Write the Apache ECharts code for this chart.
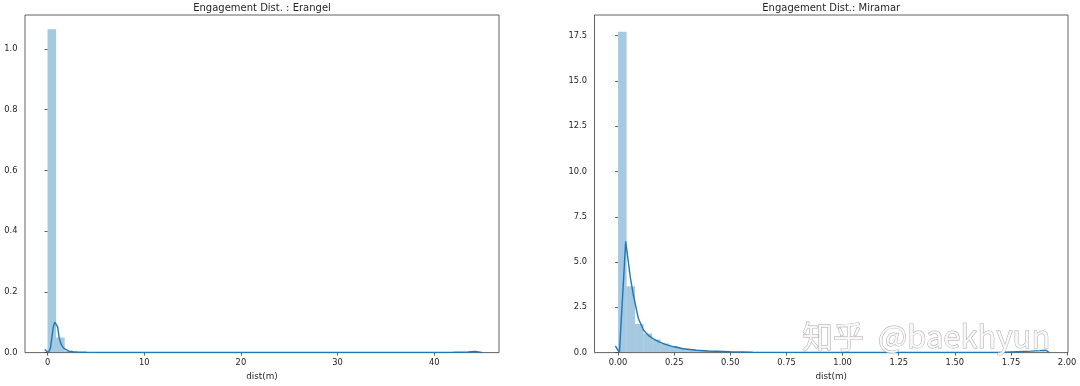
<!DOCTYPE html>
<html><head><meta charset="utf-8">
<script src="https://cdn.jsdelivr.net/npm/echarts@6/dist/echarts.min.js"></script>
<style>html,body{margin:0;padding:0;background:#fff}#c{width:1080px;height:386px}</style>
</head><body><div id="c"></div>
<script>
// ---------- data ----------
const titles = ['Engagement Dist. : Erangel', 'Engagement Dist.: Miramar'];
const xLabel = 'dist(m)';
const watermark = '知乎  @baekhyun';

const erangelBinWidth = 0.89;
const erangelHist = [1.065, 0.050, 0.006, 0.002, 0.001, 0.0008, 0.0006, 0.0005, 0.0004, 0.0003,
  0.0003, 0.0002, 0.0002, 0.0002, 0.0002, 0.0002, 0.0001, 0.0001, 0.0001, 0.0001,
  0.0001, 0.0001, 0.0001, 0.0001, 0.0001, 0.0001, 0.0001, 0.0001, 0.0001, 0.0001,
  0.0001, 0.0001, 0.0001, 0.0001, 0.0001, 0.0001, 0.0001, 0.0001, 0.0001, 0.0001,
  0.0001, 0.0001, 0.0001, 0.0001, 0.0001, 0.0002, 0.0003, 0.0005, 0.001, 0.002];
const erangelKdeX = [-0.3, -0.1, 0.1, 0.3, 0.45, 0.6, 0.75, 0.85, 0.95, 1.05, 1.2, 1.35, 1.5, 1.7, 1.9, 2.2, 2.6, 3.2, 4, 6, 10, 15, 20, 25, 30, 35, 40, 42, 43.5, 44.2, 44.6, 45.0];
const erangelKdeY = [0.010, 0.006, 0.0, 0.015, 0.05, 0.085, 0.100, 0.104, 0.100, 0.085, 0.050, 0.032, 0.022, 0.014, 0.009, 0.005, 0.003, 0.0015, 0.001, 0.0005, 0.0003, 0.0002, 0.0002, 0.0002, 0.0002, 0.0002, 0.0004, 0.001, 0.002, 0.004, 0.002, 0.0];
const erangelXTicks = [0, 10, 20, 30, 40];
const erangelYTicks = [0, 0.2, 0.4, 0.6, 0.8, 1.0];

const miramarBinWidth = 0.038;
const miramarHist = [17.72, 3.67, 1.58, 1.05, 0.72, 0.50, 0.36, 0.26, 0.19, 0.14,
  0.10, 0.075, 0.055, 0.04, 0.03, 0.022, 0.016, 0.012, 0.009, 0.007,
  0.005, 0.004, 0.003, 0.003, 0.002, 0.002, 0.002, 0.002, 0.002, 0.002,
  0.002, 0.002, 0.002, 0.002, 0.002, 0.002, 0.002, 0.002, 0.002, 0.002,
  0.002, 0.002, 0.002, 0.002, 0.005, 0.01, 0.02, 0.03, 0.04, 0.05];
const miramarKdeX = [-0.012, 0.006, 0.034, 0.054, 0.068, 0.09, 0.113, 0.135, 0.157, 0.185, 0.217, 0.25, 0.29, 0.35, 0.4, 0.5, 0.6, 0.75, 0.9, 1.0, 1.25, 1.5, 1.65, 1.72, 1.78, 1.84, 1.88, 1.9, 1.91, 1.92];
const miramarKdeY = [0.37, 0.0, 6.14, 4.2, 3.18, 1.9, 1.25, 0.95, 0.76, 0.58, 0.43, 0.32, 0.21, 0.13, 0.09, 0.045, 0.022, 0.01, 0.005, 0.004, 0.003, 0.003, 0.006, 0.02, 0.05, 0.08, 0.11, 0.13, 0.10, 0.0];
const miramarXTicks = [0, 0.25, 0.5, 0.75, 1.0, 1.25, 1.5, 1.75, 2.0];
const miramarYTicks = [0, 2.5, 5.0, 7.5, 10.0, 12.5, 15.0, 17.5];

// ---------- chart ----------
const FONT = 'DejaVu Sans';
const TXT = '#262626';
const BAR = 'rgba(31,119,180,0.4)';
const LINE = '#1f77b4';

const grids = [
  {left: 25, top: 15, width: 474, height: 339},
  {left: 594.5, top: 15, width: 473.5, height: 339}
];
const xRanges = [[-2.33, 46.7], [-0.105, 2.004]];
const yRanges = [[0, 1.112], [0, 18.64]];
const xTicks = [erangelXTicks, miramarXTicks];
const yTicks = [erangelYTicks, miramarYTicks];
const xFmt = [v => String(Math.round(v)), v => v.toFixed(2)];
const yFmt = [v => v.toFixed(1), v => v.toFixed(1)];

function histSeries(idx, width, heights) {
  return {
    type: 'custom', xAxisIndex: idx, yAxisIndex: idx, silent: true, clip: true,
    data: heights.map((h, i) => [i * width, (i + 1) * width, h]),
    encode: {x: [0, 1], y: 2},
    renderItem(params, api) {
      const p0 = api.coord([api.value(0), api.value(2)]);
      const p1 = api.coord([api.value(1), 0]);
      return {type: 'rect', shape: {x: p0[0], y: p0[1], width: p1[0] - p0[0], height: p1[1] - p0[1]},
        style: {fill: BAR}};
    }
  };
}
function kdeSeries(idx, xs, ys) {
  return {
    type: 'line', xAxisIndex: idx, yAxisIndex: idx, silent: true, showSymbol: false, z: 5,
    data: xs.map((x, i) => [x, ys[i]]),
    lineStyle: {color: LINE, width: 1.4}
  };
}

const option = {
  animation: false,
  backgroundColor: '#fff',
  grid: grids.map(g => Object.assign({show: true, borderColor: '#3a3a3a', borderWidth: 0.8, backgroundColor: 'transparent', containLabel: false}, g)),
  xAxis: [0, 1].map(i => ({
    type: 'value', gridIndex: i, min: xRanges[i][0], max: xRanges[i][1],
    axisLine: {show: false}, splitLine: {show: false},
    axisTick: {show: true, length: 3, lineStyle: {color: '#3a3a3a', width: 0.8}, customValues: xTicks[i]},
    axisLabel: {customValues: xTicks[i], formatter: xFmt[i], fontSize: 8.3, color: TXT, margin: 6.5, fontFamily: FONT},
    name: xLabel, nameLocation: 'middle', nameGap: 18.5,
    nameTextStyle: {fontSize: 8.8, color: TXT, fontFamily: FONT}
  })),
  yAxis: [0, 1].map(i => ({
    type: 'value', gridIndex: i, min: yRanges[i][0], max: yRanges[i][1],
    axisLine: {show: false}, splitLine: {show: false},
    axisTick: {show: true, length: 3, lineStyle: {color: '#3a3a3a', width: 0.8}, customValues: yTicks[i]},
    axisLabel: {customValues: yTicks[i], formatter: yFmt[i], fontSize: 8.3, color: TXT, margin: 7.5, fontFamily: FONT}
  })),
  series: [
    histSeries(0, erangelBinWidth, erangelHist),
    kdeSeries(0, erangelKdeX, erangelKdeY),
    histSeries(1, miramarBinWidth, miramarHist),
    kdeSeries(1, miramarKdeX, miramarKdeY)
  ],
  graphic: [
    {type: 'text', x: grids[0].left + grids[0].width / 2, y: 8.5, silent: true,
      style: {text: titles[0], fill: TXT, font: '10px "DejaVu Sans"', align: 'center', verticalAlign: 'middle'}},
    {type: 'text', x: grids[1].left + grids[1].width / 2, y: 8.5, silent: true,
      style: {text: titles[1], fill: TXT, font: '10px "DejaVu Sans"', align: 'center', verticalAlign: 'middle'}},
    {type: 'text', x: 802, y: 336, z: 100, silent: true,
      style: {text: watermark, fill: 'rgba(248,248,248,0.9)', stroke: 'rgba(130,130,130,0.7)', lineWidth: 0.9,
        font: '31px "Noto Sans CJK SC"', align: 'left', verticalAlign: 'middle'}}
  ]
};
echarts.init(document.getElementById('c'), null, {renderer: 'canvas'}).setOption(option);
</script>
</body></html>
